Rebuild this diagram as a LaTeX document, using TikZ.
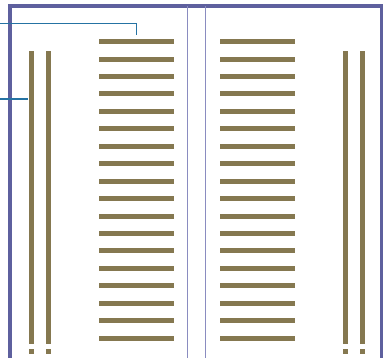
\documentclass[tikz,border=0pt]{standalone}
\definecolor{framec}{HTML}{5E609E}
\definecolor{thinc}{HTML}{8A8CC0}
\definecolor{barc}{HTML}{857850}
\definecolor{callc}{HTML}{2573A3}
\begin{document}
\begin{tikzpicture}[x=1pt,y=-1pt,
  hbar/.style={fill=barc,draw=none,minimum width=75pt,minimum height=5pt,inner sep=0pt,rectangle},
  vbar/.style={fill=barc,draw=none,minimum width=5pt,minimum height=293pt,inner sep=0pt,rectangle},
  vdot/.style={fill=barc,draw=none,minimum width=5pt,minimum height=5pt,inner sep=0pt,rectangle},
  frameline/.style={draw=framec,line width=3.2pt},
  thinline/.style={draw=thinc,line width=0.7pt},
  callout/.style={draw=callc,line width=1.3pt}]
\useasboundingbox (0,0) rectangle (386,357);
% frame
\draw[frameline] (10,360) -- (10,6) -- (381.5,6) -- (381.5,360);
\draw[thinline] (187.5,6) -- (187.5,360);
\draw[thinline] (205,6) -- (205,360);
% horizontal bars
\foreach \i in {0,...,17}{
  \node[hbar] (L\i) at (136.5,{41.7+17.43*\i}) {};
  \node[hbar] (R\i) at (257.7,{41.7+17.43*\i}) {};
}
% vertical bars
\foreach \n/\x in {va/31,vb/48.7,vc/345.3,vd/362.7}{
  \node[vbar] (\n) at (\x,197.5) {};
  \node[vdot] (\n d) at (\x,351.5) {};
}
% callouts
\coordinate (c1) at (0,23.3);
\coordinate (c2) at (0,99);
\draw[callout] (c1) -| ([shift={(0,-4)}]L0.north);
\draw[callout] (c2) -- (c2 -| va.west);
\end{tikzpicture}
\end{document}
